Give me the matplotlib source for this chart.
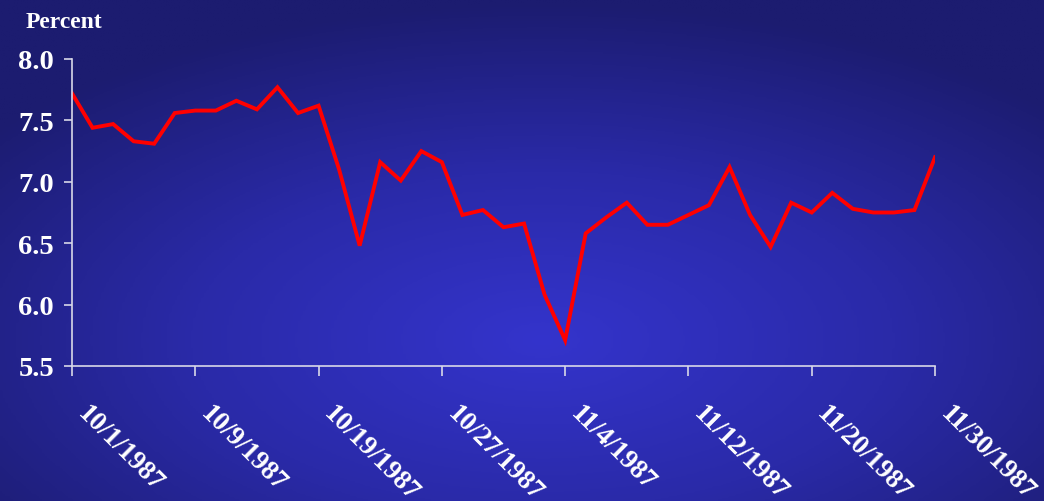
import numpy as np
import matplotlib.pyplot as plt
import matplotlib.transforms as mtransforms
from matplotlib.colors import LinearSegmentedColormap

# Daily rate, Oct 1 - Nov 30 1987 (trading days)
values = [7.72, 7.44, 7.47, 7.33, 7.31, 7.56, 7.58, 7.58, 7.66, 7.59,
          7.77, 7.56, 7.62, 7.10, 6.48, 7.16, 7.01, 7.25, 7.16, 6.73,
          6.77, 6.63, 6.66, 6.08, 5.71, 6.58, 6.71, 6.83, 6.65, 6.65,
          6.73, 6.81, 7.12, 6.73, 6.47, 6.83, 6.75, 6.91, 6.78, 6.75,
          6.75, 6.77, 7.20]
tick_labels = ["10/1/1987", "10/9/1987", "10/19/1987", "10/27/1987",
               "11/4/1987", "11/12/1987", "11/20/1987", "11/30/1987"]
tick_pos = [0, 6, 12, 18, 24, 30, 36, 42]
y_ticks = [5.5, 6.0, 6.5, 7.0, 7.5, 8.0]

fig = plt.figure(figsize=(10.44, 5.02), dpi=100)

# radial blue background
bg = fig.add_axes([0, 0, 1, 1], zorder=-1)
xx, yy = np.meshgrid(np.linspace(0, 1, 400), np.linspace(0, 1, 200))
r = np.sqrt(((xx - 0.52) / 0.75) ** 2 + ((yy - 0.68) / 0.75) ** 2)
cmap = LinearSegmentedColormap.from_list("bg", ["#3434cc", "#2a2aa8", "#1c1c70"])
bg.imshow(np.clip(r, 0, 1), cmap=cmap, aspect="auto", extent=[0, 1, 0, 1],
          origin="upper", vmin=0, vmax=0.9)
bg.axis("off")

ax = fig.add_axes([72 / 1044, 1 - 367 / 502, (935 - 72) / 1044, (367 - 60) / 502])
ax.patch.set_alpha(0)
x = np.arange(len(values))
ax.plot(x, values, color="#ff0000", lw=2.8, solid_joinstyle="miter")

ax.set_xlim(0, len(values) - 1)
ax.set_ylim(5.5, 8.0)
ax.set_yticks(y_ticks)
ax.set_yticklabels([f"{v:.1f}" for v in y_ticks])
ax.set_xticks(tick_pos)
ax.set_xticklabels([])

font = dict(family="Liberation Serif", weight="bold", color="white")
for lab in ax.get_yticklabels():
    lab.set(fontsize=20.5, **font)

# slanted date labels hanging below the axis
shift = mtransforms.ScaledTranslation(18 / 100, -35 / 100, fig.dpi_scale_trans)
for pos, text in zip(tick_pos, tick_labels):
    ax.text(pos, 0, text, transform=ax.get_xaxis_transform() + shift,
            rotation=-45, rotation_mode="anchor", ha="left", va="top",
            fontsize=19.5, clip_on=False, **font)

for s in ["top", "right"]:
    ax.spines[s].set_visible(False)
for s in ["left", "bottom"]:
    ax.spines[s].set_color("#d8d8e8")
    ax.spines[s].set_linewidth(1.2)
ax.tick_params(axis="y", colors="#d8d8e8", length=6, width=1.2, pad=7)
ax.tick_params(axis="x", colors="#d8d8e8", length=7, width=1.2)
for lab in ax.get_yticklabels():
    lab.set_color("white")

fig.text(26 / 1044, 1 - 22 / 502, "Percent", fontsize=17, va="center", ha="left", **font)

fig.savefig("out.png", dpi=100)
